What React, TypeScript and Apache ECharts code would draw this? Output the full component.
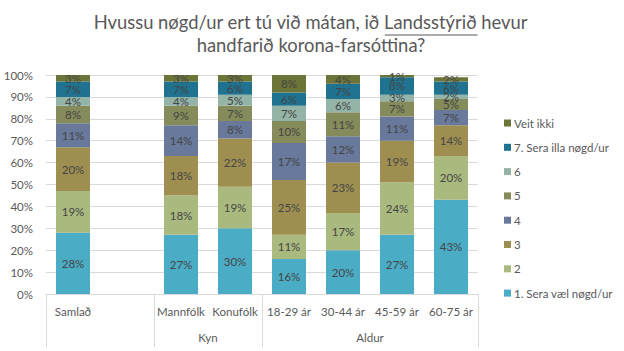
import React, { useEffect, useRef } from 'react';
import * as echarts from 'echarts';

const categories = ['Samlað', '', 'Mannfólk', 'Konufólk', '18-29 ár', '30-44 ár', '45-59 ár', '60-75 ár'];
const groupNames = ['', 'Kyn', 'Aldur'];
const groupStarts = [0, 2, 4];
const groupEnds = [1, 3, 7];
const seriesNames = ['1. Sera væl nøgd/ur', '2', '3', '4', '5', '6', '7. Sera illa nøgd/ur', 'Veit ikki'];
const s1 = [28, null, 27, 30, 16, 20, 27, 43];
const s2 = [19, null, 18, 19, 11, 17, 24, 20];
const s3 = [20, null, 18, 22, 25, 23, 19, 14];
const s4 = [11, null, 14, 8, 17, 12, 11, 7];
const s5 = [8, null, 9, 7, 10, 11, 7, 5];
const s6 = [4, null, 4, 5, 7, 6, 3, 2];
const s7 = [7, null, 7, 6, 6, 7, 8, 6];
const sVI = [3, null, 3, 3, 8, 4, 1, 2];
const seriesData = [s1, s2, s3, s4, s5, s6, s7, sVI];
const colors = ['#4BACC6', '#AAB97E', '#9E8F51', '#68799C', '#858B5A', '#93B4A7', '#1F7390', '#6C7438'];
const titleLine1a = 'Hvussu nøgd/ur ert tú við mátan, ið ';
const titleLine1b = 'Landsstýrið';
const titleLine1c = ' hevur';
const titleLine2 = 'handfarið korona-farsóttina?';

const FONT = 'Lato, "Noto Sans", sans-serif';
const GREY = '#595959';

export default function App() {
  const ref = useRef<HTMLDivElement>(null);
  useEffect(() => {
    if (!ref.current) return;
    const chart = echarts.init(ref.current, undefined, { renderer: 'svg' });
    const option: any = {
      animation: false,
      backgroundColor: '#ffffff',
      color: colors,
      textStyle: { fontFamily: FONT },
      grid: { left: 46, right: 146, top: 75, bottom: 57 },
      legend: {
        orient: 'vertical',
        left: 499,
        top: 111,
        itemWidth: 7,
        itemHeight: 7,
        itemGap: 10.3,
        icon: 'rect',
        data: seriesNames.slice().reverse(),
        textStyle: { color: GREY, fontSize: 11.5, fontFamily: FONT, lineHeight: 14, padding: [0, 0, 0, -2] },
      },
      xAxis: {
        type: 'category',
        data: categories,
        axisLine: { lineStyle: { color: '#d9d9d9' } },
        axisTick: { show: false },
        axisLabel: { color: GREY, fontSize: 11.5, fontFamily: FONT, margin: 11, interval: 0 },
      },
      yAxis: {
        type: 'value',
        min: 0,
        max: 100,
        interval: 10,
        axisLine: { show: false },
        axisTick: { show: false },
        splitLine: { lineStyle: { color: '#d9d9d9' } },
        axisLabel: { color: GREY, fontSize: 11.5, fontFamily: FONT, margin: 13, formatter: '{value}%' },
      },
      series: seriesNames.map((name, i) => ({
        name,
        type: 'bar',
        stack: 'total',
        barWidth: 34,
        data: seriesData[i],
        itemStyle: { color: colors[i] },
        label: {
          show: true,
          position: 'inside',
          color: '#454545',
          fontSize: 11.5,
          fontFamily: FONT,
          formatter: (p: any) => (p.value == null ? '' : p.value + '%'),
        },
      })),
    };
    chart.setOption(option);

    const ctx = document.createElement('canvas').getContext('2d')!;
    const titleFont = '18.4px Lato';
    ctx.font = titleFont;
    const wa = ctx.measureText(titleLine1a).width;
    const wb = ctx.measureText(titleLine1b).width;
    const wc = ctx.measureText(titleLine1c).width;
    const total = wa + wb + wc;
    const cx = 311;
    const startX = cx - total / 2;

    const c0 = chart.convertToPixel({ xAxisIndex: 0 }, 0) as number;
    const c1 = chart.convertToPixel({ xAxisIndex: 0 }, 1) as number;
    const w = c1 - c0;
    const boundary = (i: number) => c0 + (i - 0.5) * w;
    const y0 = chart.convertToPixel({ yAxisIndex: 0 }, 0) as number;

    const graphic: any[] = [];
    const seps = [0, ...groupEnds.map((e) => e + 1)];
    seps.forEach((b) => {
      const x = Math.round(boundary(b)) + 0.5;
      graphic.push({
        type: 'line',
        shape: { x1: x, y1: y0, x2: x, y2: y0 + 53 },
        style: { stroke: '#d9d9d9', lineWidth: 1 },
      });
    });
    groupNames.forEach((g, i) => {
      if (!g) return;
      graphic.push({
        type: 'text',
        x: (boundary(groupStarts[i]) + boundary(groupEnds[i] + 1)) / 2,
        y: y0 + 43,
        style: { text: g, fill: GREY, font: '11.5px Lato', align: 'center', verticalAlign: 'middle' },
      });
    });
    graphic.push({
      type: 'text',
      x: startX,
      y: 22,
      style: { text: titleLine1a + titleLine1b + titleLine1c, fill: GREY, font: titleFont, align: 'left', verticalAlign: 'middle' },
    });
    graphic.push({
      type: 'line',
      shape: { x1: startX + wa, y1: 35, x2: startX + wa + wb, y2: 35 },
      style: { stroke: GREY, lineWidth: 1 },
    });
    graphic.push({
      type: 'text',
      x: cx,
      y: 45,
      style: { text: titleLine2, fill: GREY, font: titleFont, align: 'center', verticalAlign: 'middle' },
    });
    chart.setOption({ graphic });

    return () => chart.dispose();
  }, []);
  return <div ref={ref} style={{ width: 624, height: 351, position: 'absolute', left: 0, top: 0 }} />;
}
